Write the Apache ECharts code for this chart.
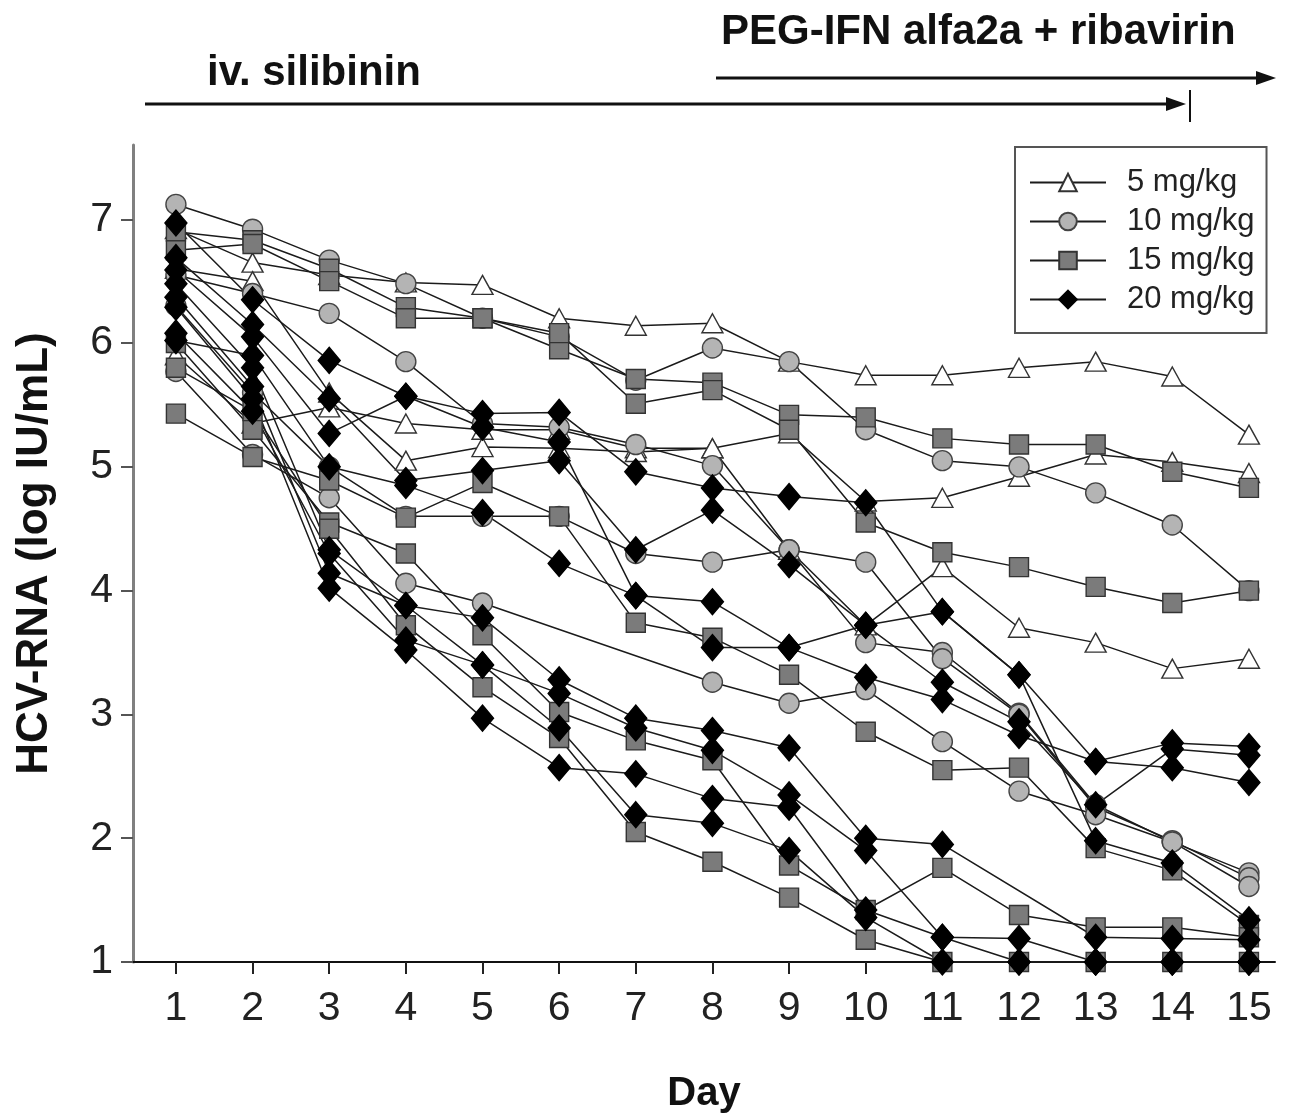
<!DOCTYPE html>
<html>
<head>
<meta charset="utf-8">
<script src="https://cdn.jsdelivr.net/npm/echarts@6/dist/echarts.min.js"></script>
<style>
  html, body { margin: 0; padding: 0; background: #fff; }
  #chart { width: 1290px; height: 1120px; }
</style>
</head>
<body>
<div id="chart"></div>
<script>
// HCV-RNA 逐日下降 — 四個劑量組，每位病人一條線
const DAYS = [1, 2, 3, 4, 5, 6, 7, 8, 9, 10, 11, 12, 13, 14, 15];

// 5 mg/kg（空心三角）
const dose5 = [
  [6.92, 6.65, 6.55, 6.49, 6.47, 6.2, 6.14, 6.16, 5.85, 5.74, 5.74, 5.8, 5.85, 5.73, 5.26],
  [5.9, 5.35, 5.48, 5.35, 5.3, 5.3, 5.15, 5.15, 5.27, 4.72, 4.75, 4.92, 5.1, 5.04, 4.95],
  [6.6, 6.5, 5.6, 5.05, 5.16, 5.15, 5.12, 5.15, 4.33, 3.72, 4.19, 3.7, 3.58, 3.37, 3.45],
];
// 10 mg/kg（淺灰圓）
const dose10 = [
  [7.12, 6.92, 6.67, 6.48, 6.2, 6.05, 5.7, 5.96, 5.85, 5.3, 5.05, 5.0, 4.79, 4.53, 4.0],
  [6.55, 6.4, 6.24, 5.85, 5.35, 5.32, 5.18, 5.01, 4.33, 3.58, 3.5, 3.01, 2.27, 1.97, 1.72],
  [6.3, 5.6, 5.0, 4.6, 4.6, 4.6, 4.3, 4.23, 4.33, 4.23, 3.45, 3.0, 2.25, 1.98, 1.68],
  [5.77, 5.1, 4.75, 4.06, 3.9, null, null, 3.26, 3.09, 3.2, 2.78, 2.38, 2.19, 1.97, 1.61],
];
// 15 mg/kg（深灰方）
const dose15 = [
  [6.9, 6.83, 6.6, 6.29, 6.2, 5.95, 5.71, 5.68, 5.42, 5.4, 5.23, 5.18, 5.18, 4.96, 4.83],
  [6.75, 6.8, 6.5, 6.2, 6.2, 6.08, 5.51, 5.62, 5.3, 4.55, 4.31, 4.19, 4.03, 3.9, 4.0],
  [5.43, 5.08, 4.89, 4.59, 4.87, 4.6, 3.74, 3.62, 3.32, 2.86, 2.55, 2.57, 1.92, 1.74, 1.3],
  [6.0, 5.3, 4.55, 4.3, 3.64, 3.02, 2.79, 2.63, 1.78, 1.42, 1.76, 1.38, 1.28, 1.28, 1.2],
  [5.8, 5.45, 4.5, 3.72, 3.22, 2.81, 2.05, 1.81, 1.52, 1.18, 1.0, 1.0, 1.0, 1.0, 1.0],
];
// 20 mg/kg（黑菱形）
const dose20 = [
  [6.97, 6.35, 5.86, 5.57, 5.43, 5.44, 4.96, 4.83, 4.76, 4.71, 3.83, 3.32, 2.62, 2.77, 2.74],
  [6.69, 6.15, 5.55, 4.89, 4.97, 5.05, 4.33, 4.65, 4.21, 3.72, 3.26, 2.94, 2.27, 2.72, 2.67],
  [6.59, 6.05, 5.27, 5.57, 5.32, 5.2, 3.96, 3.91, 3.54, 3.3, 3.12, 2.83, 2.62, 2.57, 2.45],
  [6.48, 5.8, 4.33, 3.88, 3.78, 3.28, 2.97, 2.87, 2.73, 2.0, 1.95, null, 1.2, 1.19, 1.18],
  [6.37, 5.65, 4.14, 3.88, 3.4, 3.17, 2.89, 2.71, 2.35, 1.9, 1.2, 1.19, 1.0, 1.0, 1.0],
  [6.29, 5.55, 4.02, 3.52, 2.97, 2.57, 2.52, 2.32, 2.25, 1.42, 1.2, 1.0, 1.0, 1.0, 1.0],
  [6.08, 5.45, 4.3, 3.6, 3.4, 2.89, 2.19, 2.12, 1.9, 1.36, 1.0, 1.0, 1.0, 1.0, 1.0],
  [6.02, 5.9, 5.0, 4.85, 4.63, 4.22, 3.96, 3.54, 3.54, 3.72, 3.83, 3.32, 1.98, 1.8, 1.34],
];

const Y_TICKS = [1, 2, 3, 4, 5, 6, 7];

const GROUPS = [
  { name: "5 mg/kg",  rows: dose5,  symbol: "triangle", size: [21, 19], fill: "#ffffff", border: "#333" },
  { name: "10 mg/kg", rows: dose10, symbol: "circle",   size: 20,       fill: "#b4b4b4", border: "#444" },
  { name: "15 mg/kg", rows: dose15, symbol: "rect",     size: 19,       fill: "#7b7b7b", border: "#333" },
  { name: "20 mg/kg", rows: dose20, symbol: "diamond",  size: [22, 26], fill: "#000000", border: "#000" },
];

const LINE_CLR = "#1b1b1b";
const FONT = "'Liberation Sans', Arial, sans-serif";

const series = [];
for (const g of GROUPS) {
  for (const r of g.rows) {
    series.push({
      name: g.name, type: "line", data: DAYS.map((d, i) => [d, r[i]]),
      connectNulls: true, symbol: g.symbol, symbolSize: g.size, showAllSymbol: true,
      lineStyle: { color: LINE_CLR, width: 1.5 },
      itemStyle: { color: g.fill, borderColor: g.border, borderWidth: 1.4 },
      emphasis: { disabled: true }, animation: false,
    });
  }
}

const chart = echarts.init(document.getElementById("chart"), null, { renderer: "canvas" });
chart.setOption({
  backgroundColor: "#fff",
  animation: false,
  textStyle: { fontFamily: FONT },
  grid: { left: 133, right: 15, top: 145, bottom: 158, outerBoundsMode: "none", containLabel: false },
  xAxis: {
    type: "value", min: 0.44, max: 15.34,
    name: "Day", nameLocation: "middle", nameGap: 112,
    nameTextStyle: { fontSize: 40, fontWeight: "bold", color: "#111", fontFamily: FONT },
    axisLine: { lineStyle: { color: "#111", width: 2 } },
    axisTick: { customValues: DAYS, length: 12, lineStyle: { color: "#222", width: 2 } },
    axisLabel: { customValues: DAYS, fontSize: 41, color: "#222", margin: 26, fontFamily: FONT },
    splitLine: { show: false },
  },
  yAxis: {
    type: "value", min: 1, max: 7.6,
    name: "HCV-RNA (log IU/mL)", nameLocation: "middle", nameGap: 76, nameRotate: 90,
    nameTextStyle: { fontSize: 44, fontWeight: "bold", color: "#111", fontFamily: FONT },
    axisLine: { show: true, lineStyle: { color: "#808080", width: 3 } },
    axisTick: { show: true, customValues: Y_TICKS, length: 12, lineStyle: { color: "#555", width: 2 } },
    axisLabel: { customValues: Y_TICKS, fontSize: 41, color: "#222", margin: 20, fontFamily: FONT },
    splitLine: { show: false },
  },
  legend: {
    data: GROUPS.map(g => g.name),
    orient: "vertical", left: 1015, top: 147,
    padding: [20, 12, 18, 14], itemGap: 8, itemWidth: 76, itemHeight: 22,
    borderColor: "#555", borderWidth: 2, backgroundColor: "#fff",
    textStyle: { fontSize: 31, color: "#222", fontFamily: FONT, padding: [0, 0, 0, 16] },
    selectedMode: false,
  },
  graphic: [
    { type: "text", left: 207, top: 52,
      style: { text: "iv. silibinin", font: `bold 42px ${FONT}`, fill: "#111" } },
    { type: "text", left: 721, top: 11,
      style: { text: "PEG-IFN alfa2a + ribavirin", font: `bold 42px ${FONT}`, fill: "#111" } },
    { type: "line", shape: { x1: 145, y1: 104, x2: 1178, y2: 104 }, style: { stroke: "#111", lineWidth: 3 } },
    { type: "polygon", shape: { points: [[1186, 104], [1166, 97], [1166, 111]] }, style: { fill: "#111" } },
    { type: "line", shape: { x1: 1190, y1: 90, x2: 1190, y2: 122 }, style: { stroke: "#111", lineWidth: 2 } },
    { type: "line", shape: { x1: 716, y1: 78, x2: 1268, y2: 78 }, style: { stroke: "#111", lineWidth: 3 } },
    { type: "polygon", shape: { points: [[1276, 78], [1256, 71], [1256, 85]] }, style: { fill: "#111" } },
  ],
  series,
});
</script>
</body>
</html>
